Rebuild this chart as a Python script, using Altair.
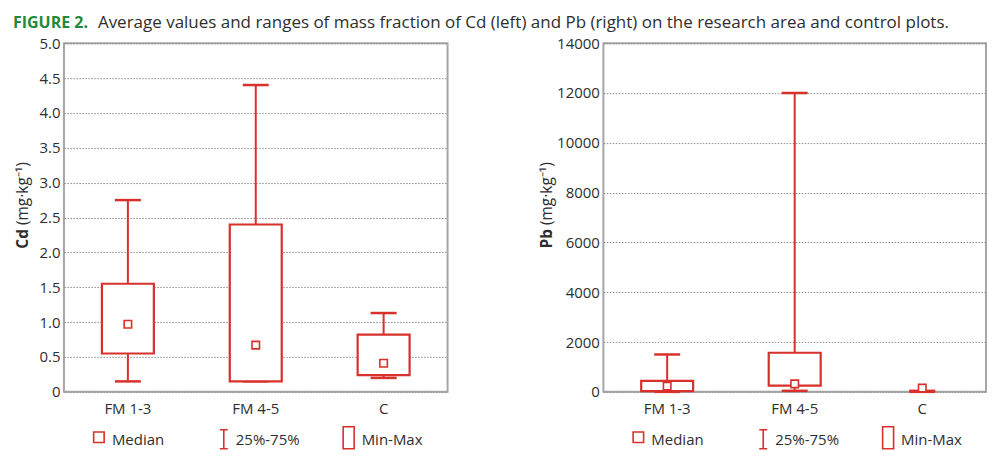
import altair as alt
import pandas as pd

# ---------------- data ----------------
cats = ["FM 1-3", "FM 4-5", "C"]

cd_whisk_low = [0.15, 0.15, 0.20]
cd_box_low = [0.55, 0.15, 0.24]
cd_median = [0.97, 0.67, 0.41]
cd_box_high = [1.55, 2.40, 0.82]
cd_whisk_high = [2.75, 4.40, 1.13]

pb_whisk_low = [0, 40, 0]
pb_box_low = [30, 250, None]
pb_median = [230, 320, 150]
pb_box_high = [440, 1570, None]
pb_whisk_high = [1500, 12000, 40]

cd_ticks = [0, 0.5, 1.0, 1.5, 2.0, 2.5, 3.0, 3.5, 4.0, 4.5, 5.0]
pb_ticks = [0, 2000, 4000, 6000, 8000, 10000, 12000, 14000]

legend_labels = ["Median", "25%-75%", "Min-Max"]
title_bold = "FIGURE 2."
title_rest = ("Average values and ranges of mass fraction of Cd (left) and Pb (right) "
              "on the research area and control plots.")

RED = "#d8312b"
GREEN = "#1f8a3d"
TXT = "#2e2e2e"
FONT = "Open Sans"
W_L, W_R, H = 384, 383, 349


def txt(s, x, y, **kw):
    return alt.Chart(pd.DataFrame({"t": [s]})).mark_text(font=FONT, **kw).encode(
        x=alt.value(x), y=alt.value(y), text="t:N")


def sym(shape, x, y, size):
    return alt.Chart(pd.DataFrame({"t": [0]})).mark_point(
        shape=shape, size=size, filled=False, color=RED, strokeWidth=1.6, opacity=1
    ).encode(x=alt.value(x), y=alt.value(y))


def legend_layers():
    ly = H + 47
    return [
        sym("M-1,-1H1V1H-1Z", 35, ly - 1.5, 110),
        sym("M-0.42,-1H0.42M0,-1V1M-0.42,1H0.42", 160, ly + 0.5, 361),
        sym("M-0.5,-1H0.5V1H-0.5Z", 285, ly - 1, 484),
        txt(legend_labels[0], 48, ly + 6, align="left", baseline="alphabetic", fontSize=15, color=TXT),
        txt(legend_labels[1], 172, ly + 6, align="left", baseline="alphabetic", fontSize=15, color=TXT),
        txt(legend_labels[2], 298, ly + 6, align="left", baseline="alphabetic", fontSize=15, color=TXT),
    ]


def panel(wl, bl, med, bh, wh, ticks, domain, label_expr, width, name, title_x, extra=()):
    df = pd.DataFrame({"cat": cats, "wl": wl, "bl": bl, "med": med, "bh": bh, "wh": wh})
    x = alt.X("cat:N", sort=cats, scale=alt.Scale(paddingInner=0, paddingOuter=0),
              axis=alt.Axis(title=None, labelAngle=0, ticks=False, domain=False,
                            labelPadding=10, labelFontSize=15, labelColor=TXT,
                            labelFont=FONT, grid=False))
    yscale = alt.Scale(domain=domain, nice=False, zero=True)
    yaxis = alt.Axis(title=None, values=ticks, labelExpr=label_expr, ticks=False,
                     domain=False, labelPadding=4, labelFontSize=15, labelFont=FONT,
                     labelColor=TXT, labelOverlap=False, grid=True, gridColor="#8c8c8c",
                     gridDash=[1.5, 1.5], gridWidth=1)

    def Y(f):
        return alt.Y(f, type="quantitative", scale=yscale, axis=yaxis)

    base = alt.Chart(df)
    whisk = base.mark_rule(color=RED, strokeWidth=2).encode(x=x, y=Y("wl"), y2="wh:Q")
    cap_lo = base.mark_tick(color=RED, size=26, thickness=2.5, opacity=1).encode(x=x, y=Y("wl"))
    cap_hi = base.mark_tick(color=RED, size=26, thickness=2.5, opacity=1).encode(x=x, y=Y("wh"))
    box = base.mark_bar(size=52, fill="white", stroke=RED, strokeWidth=2.2).encode(
        x=x, y=Y("bl"), y2="bh:Q")
    medm = base.mark_point(shape="square", size=56, filled=True, fill="white",
                           stroke=RED, strokeWidth=1.6, opacity=1).encode(x=x, y=Y("med"))
    ytitle = [
        txt(name, title_x, 186, angle=270, align="right", baseline="alphabetic",
            fontSize=15.5, fontWeight="bold", color=TXT),
        txt("(mg\u00b7kg\u207b\u00b9)", title_x, 182, angle=270, align="left",
            baseline="alphabetic", fontSize=15.5, color=TXT),
    ]
    layers = [whisk, cap_lo, cap_hi, box, medm] + ytitle + legend_layers() + list(extra)
    return alt.layer(*layers).properties(width=width, height=H)


title_layers = [
    txt(title_bold, -51, -15.5, align="left", baseline="alphabetic", fontSize=16,
        fontWeight="bold", color=GREEN),
    txt(title_rest, 34, -15.5, align="left", baseline="alphabetic", fontSize=17, color=TXT),
]

left = panel(cd_whisk_low, cd_box_low, cd_median, cd_box_high, cd_whisk_high, cd_ticks,
             [0, 5], "datum.value == 0 ? '0' : format(datum.value, '.1f')", W_L, "Cd", -36,
             extra=title_layers)
right = panel(pb_whisk_low, pb_box_low, pb_median, pb_box_high, pb_whisk_high, pb_ticks,
              [0, 14000], "format(datum.value, 'd')", W_R, "Pb", -51)

chart = alt.hconcat(left, right, spacing=156, bounds="flush").properties(
    padding={"left": 4, "top": 4, "right": 5, "bottom": 5}
).configure_view(stroke="#a6a6a6", strokeWidth=2)

chart.save("out.html", embed_options={"renderer": "svg", "actions": False})
